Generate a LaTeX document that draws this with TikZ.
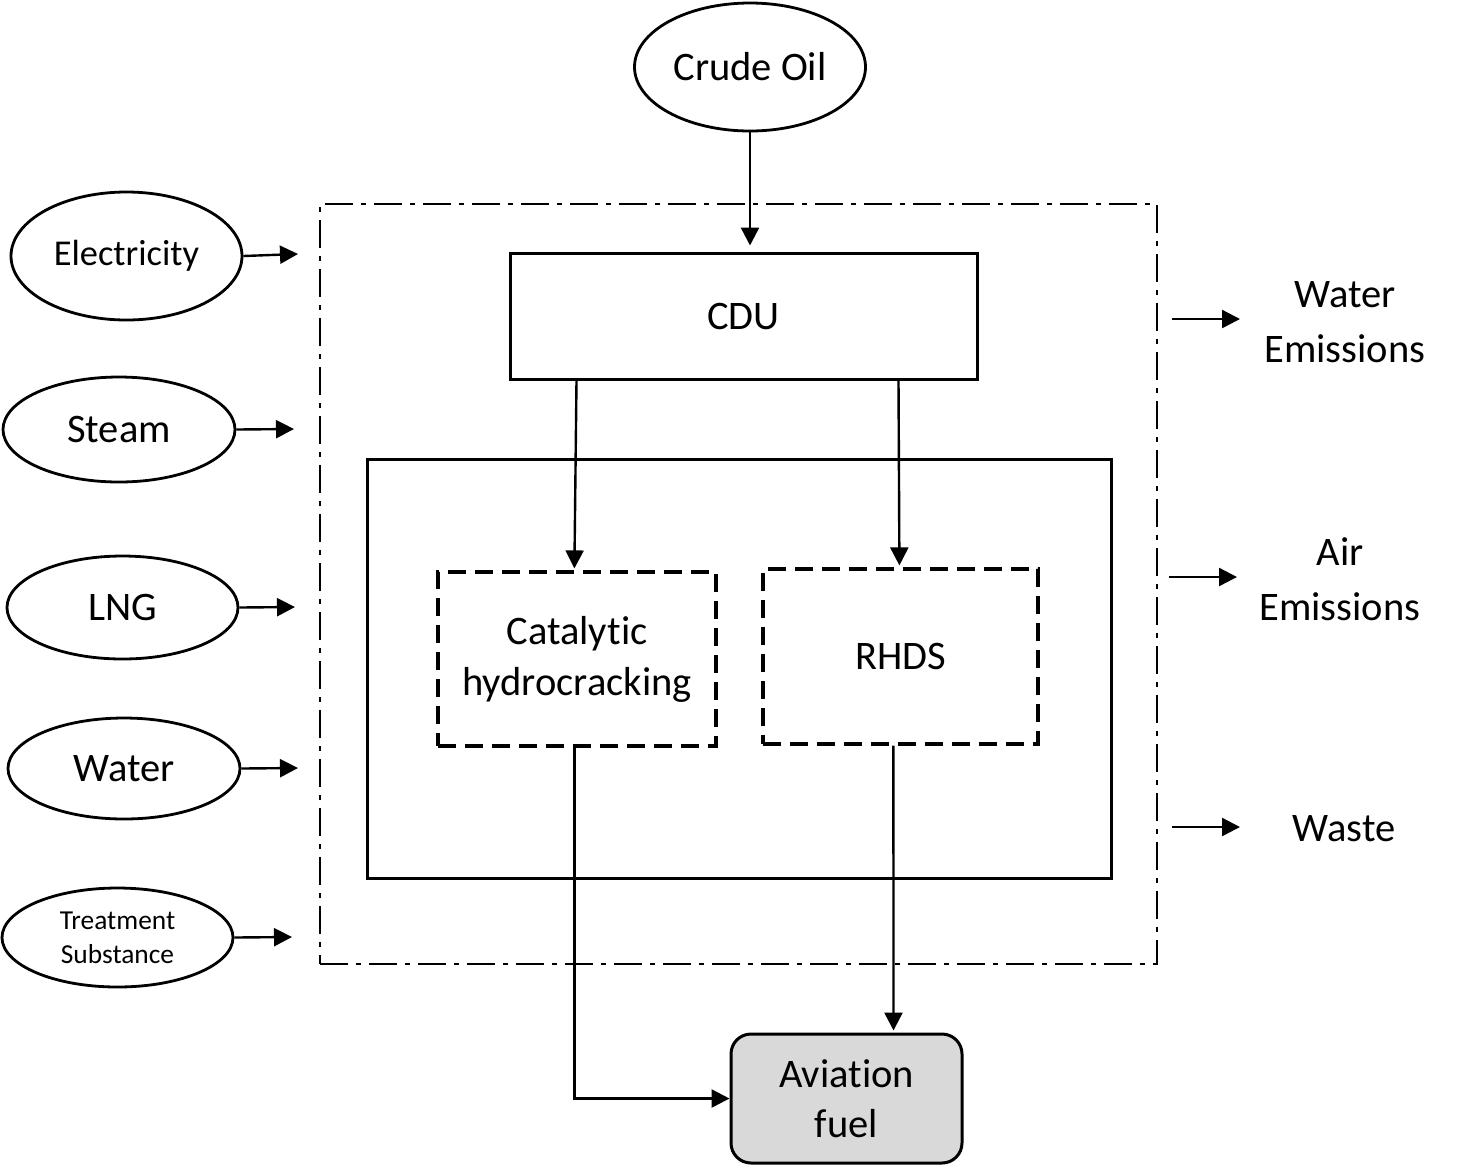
\documentclass[tikz,border=0pt]{standalone}
\usepackage{fontspec}
\setmainfont{Carlito}[RawFeature=-liga]
\usetikzlibrary{shapes.geometric,arrows.meta,calc}
\begin{document}
\begin{tikzpicture}[x=0.5pt,y=-0.5pt,
  every node/.style={align=center},
  txt/.style={font=\fontsize{20.25}{27.5}\selectfont},
  oval/.style={draw, line width=1.4pt, ellipse, inner sep=0pt, txt},
  box/.style={draw, line width=1.5pt, rectangle, inner sep=0pt, txt},
  dbox/.style={draw, line width=1.6pt, dash pattern=on 9pt off 4.5pt, rectangle, inner sep=0pt, font=\fontsize{20.25}{25.5}\selectfont},
  sysbox/.style={draw, line width=1.4pt, dash pattern=on 14pt off 4pt on 2.5pt off 4pt, rectangle, inner sep=0pt},
  arr/.style={line width=1.2pt, -{Triangle[length=9pt,width=9pt]}}
]
\useasboundingbox (0,0) rectangle (1472,1175);

% system boundary and inner box
\node[sysbox, minimum width=418.5pt, minimum height=380pt] (sys) at (738.5,584) {};
\node[box, minimum width=372pt, minimum height=209.5pt] (inner) at (739,668.5) {};

% main nodes
\node[oval, minimum width=115.5pt, minimum height=64pt] (crude) at (750,67) {Crude Oil};
\node[box, minimum width=233.5pt, minimum height=63pt] (cdu) at (743.5,316) {CDU};
\node[dbox, minimum width=139pt, minimum height=87pt] (cat) at (577,659) {Catalytic\\hydrocracking};
\node[dbox, minimum width=137.5pt, minimum height=87.5pt] (rhds) at (900.5,656.5) {RHDS};
\node[draw, line width=1.5pt, rounded corners=10pt, fill=black!15, minimum width=115.5pt, minimum height=64.5pt, inner sep=0pt, font=\fontsize{20.25}{25}\selectfont] (avi) at (846.5,1098.5) {Aviation\\fuel};

% input ovals
\node[oval, minimum width=115.5pt, minimum height=64pt, font=\fontsize{18.2}{22}\selectfont] (elec) at (126.5,256) {Electricity};
\node[oval, minimum width=116pt, minimum height=52.5pt] (steam) at (119,429.5) {Steam};
\node[oval, minimum width=115.5pt, minimum height=51.5pt] (lng) at (122.5,607.5) {LNG};
\node[oval, minimum width=116pt, minimum height=50.5pt] (water) at (124,768.5) {Water};
\node[oval, minimum width=115.5pt, minimum height=49.5pt, font=\fontsize{13.7}{17}\selectfont] (treat) at (117.5,937.5) {Treatment\\Substance};

% outputs
\node[txt] (wem) at (1345,322) {Water\\Emissions};
\node[txt] (aem) at (1340,579) {Air\\Emissions};
\node[txt] (waste) at (1344,829) {Waste};

% free ends
\coordinate (e1) at (298,254);
\coordinate (e2) at (294,429);
\coordinate (e3) at (295,607);
\coordinate (e4) at (298,768);
\coordinate (e5) at (292,937);
\coordinate (o1s) at (1172,319); \coordinate (o1e) at (1240,319);
\coordinate (o2s) at (1169,577); \coordinate (o2e) at (1237,577);
\coordinate (o3s) at (1172,827); \coordinate (o3e) at (1240,827);

% connectors
\draw[arr] (crude.south) -- ($(crude.south |- cdu.north)+(0,-6)$);
\draw[arr] ($(cdu.south west)+(68,0)$) -- ($(cat.north west)+(138,-2)$);
\draw[arr] ($(cdu.south west)+(390,0)$) -- ($(rhds.north west)+(138,-2)$);
\draw[arr] ($(cat.south west)+(138,0)$) |- (avi.west);
\draw[arr] ($(rhds.south west)+(132,0)$) -- ($(avi.north west)+(164,-2)$);

\draw[arr] (elec.east) -- (e1);
\draw[arr] (steam.east) -- (e2);
\draw[arr] (lng.east) -- (e3);
\draw[arr] (water.east) -- (e4);
\draw[arr] (treat.east) -- (e5);

\draw[arr] (o1s) -- (o1e);
\draw[arr] (o2s) -- (o2e);
\draw[arr] (o3s) -- (o3e);
\end{tikzpicture}
\end{document}
